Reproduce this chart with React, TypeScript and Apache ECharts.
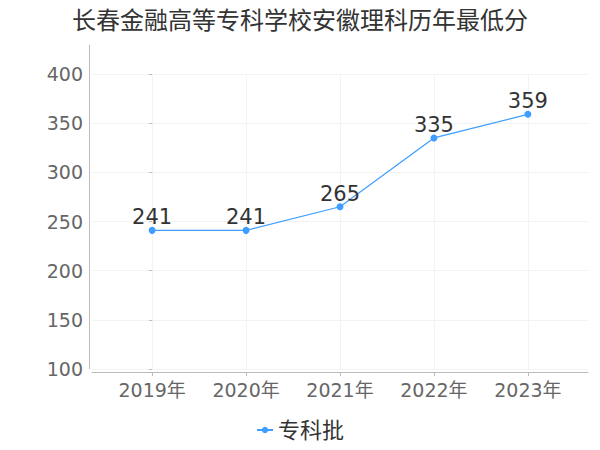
import React, { useEffect, useRef } from "react";
import * as echarts from "echarts";

const title = "长春金融高等专科学校安徽理科历年最低分";
const years = ["2019年", "2020年", "2021年", "2022年", "2023年"];
const seriesName = "专科批";
const scores = [241, 241, 265, 335, 359];
const yTicks = { min: 100, max: 400, interval: 50 };

const FONT = "'DejaVu Sans', 'Noto Sans CJK SC', sans-serif";

export default function App() {
  const ref = useRef<HTMLDivElement>(null);
  useEffect(() => {
    document.body.style.margin = "0";
    if (!ref.current) return;
    const chart = echarts.init(ref.current, null, { renderer: "svg" });
    const idx = years.map((_, i) => i);
    chart.setOption({
      animation: false,
      textStyle: { fontFamily: FONT },
      title: {
        text: title,
        left: "center",
        top: 4,
        textStyle: { fontSize: 24, fontWeight: "normal", color: "#333", fontFamily: FONT },
      },
      legend: {
        bottom: 4,
        left: "center",
        itemWidth: 16,
        itemHeight: 8,
        itemGap: 6,
        textStyle: { fontSize: 22, color: "#333", fontFamily: FONT },
        data: [seriesName],
      },
      grid: { left: 92, right: 12, top: 74, bottom: 81 },
      xAxis: {
        type: "value",
        min: -0.64,
        max: 4.64,
        offset: 3,
        axisLine: { show: true, lineStyle: { color: "#bbb" } },
        axisTick: { show: true, length: 4, lineStyle: { color: "#bbb" }, customValues: idx },
        axisLabel: {
          customValues: idx,
          formatter: (v: number) => years[Math.round(v)] ?? "",
          fontSize: 19,
          color: "#666",
          margin: 8,
          fontFamily: FONT,
        },
        splitLine: { show: true, lineStyle: { color: "#f3f3f3" } },
      },
      yAxis: {
        type: "value",
        min: yTicks.min,
        max: yTicks.max,
        interval: yTicks.interval,
        offset: 3,
        axisLine: { show: false },
        axisTick: { show: true, length: 3, lineStyle: { color: "#bbb" } },
        axisLabel: { fontSize: 19, color: "#666", margin: 6, fontFamily: FONT },
        splitLine: { show: true, lineStyle: { color: "#f3f3f3" } },
      },
      graphic: [
        {
          type: "line",
          shape: { x1: 89.5, y1: 45, x2: 89.5, y2: 369 },
          style: { stroke: "#bbb", lineWidth: 1 },
        },
      ],
      series: [
        {
          name: seriesName,
          type: "line",
          data: scores.map((s, i) => [i, s]),
          symbol: "circle",
          symbolSize: 7,
          itemStyle: { color: "#3d9eff" },
          lineStyle: { width: 1.2, color: "#3d9eff" },
          label: {
            show: true,
            position: "top",
            distance: -1,
            fontSize: 21,
            color: "#333",
            fontFamily: FONT,
            formatter: (p: any) => String(p.value[1]),
          },
        },
      ],
    });
    return () => chart.dispose();
  }, []);
  return <div ref={ref} style={{ width: 600, height: 450 }} />;
}
